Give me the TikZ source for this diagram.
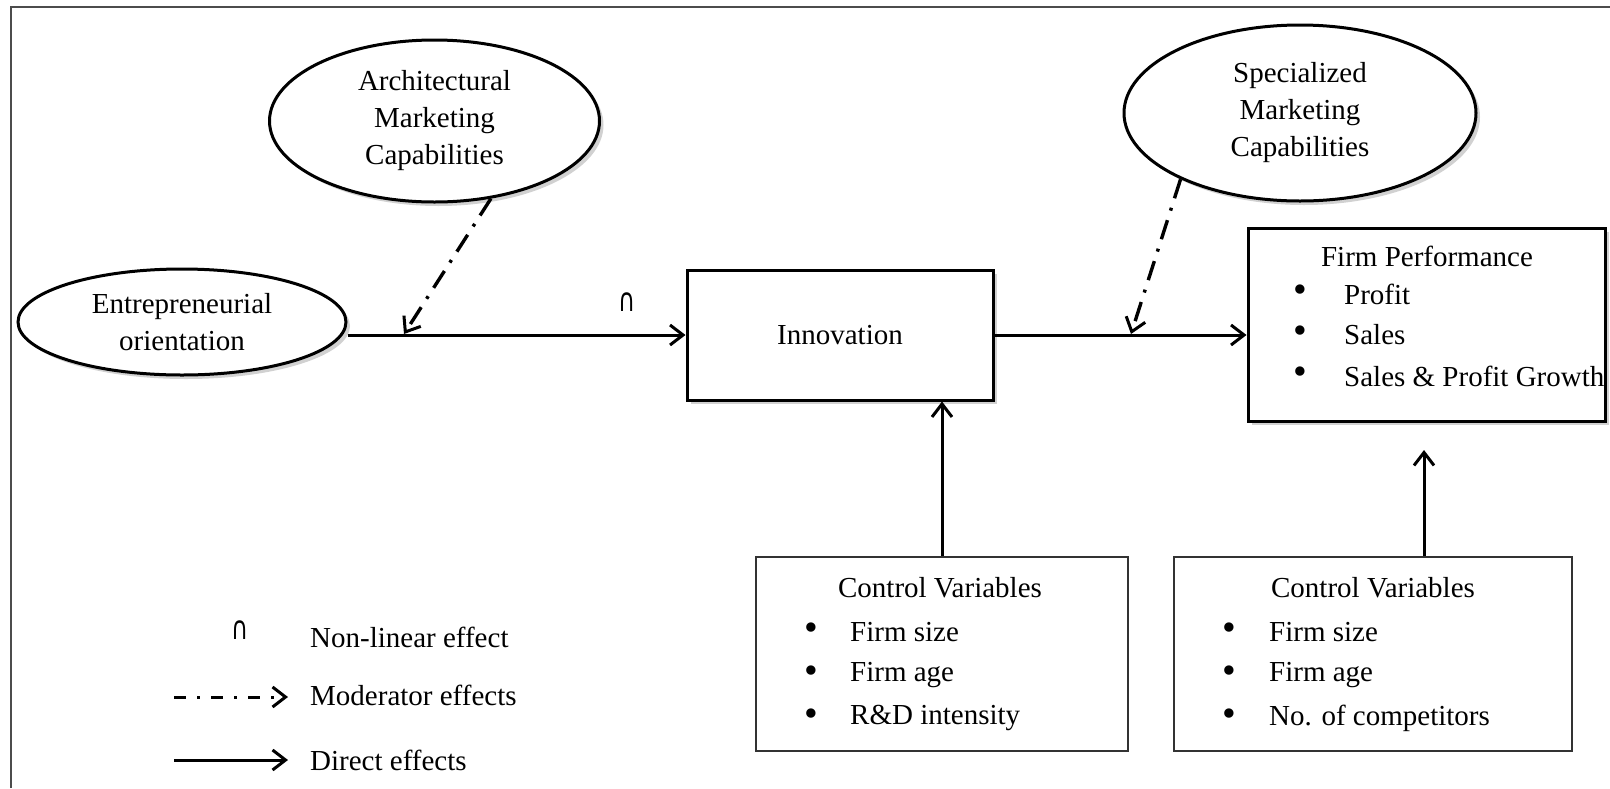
\documentclass[tikz,border=0pt]{standalone}
\usepackage{fontspec}
\setmainfont{Liberation Serif}
\newfontfamily\symfont{DejaVu Sans}
\usetikzlibrary{arrows.meta,shadows,shapes.geometric}
\newcommand{\bigbullet}{\scalebox{1.35}{•}}
\begin{document}
\begin{tikzpicture}[x=1pt,y=-1pt,
  every node/.style={font=\fontsize{29}{37}\selectfont, inner sep=0pt},
  shade/.style={drop shadow={shadow xshift=4pt, shadow yshift=-4pt, opacity=0.18, fill=black}},
  mainbox/.style={draw, line width=3pt, fill=white, shade, rectangle},
  ctrlbox/.style={draw=black!80, line width=1.6pt, fill=white, rectangle},
  construct/.style={draw, line width=3pt, fill=white, shade, ellipse, align=center},
  direct/.style={line width=3pt, -{Straight Barb[length=13pt,width=20pt,line width=3pt]}},
  moderator/.style={line width=3.4pt, dash pattern=on 20pt off 10pt on 3pt off 10pt,
     -{Straight Barb[length=13pt,width=20pt,line width=3pt]}},
  legmod/.style={line width=3pt, dash pattern=on 12pt off 11pt on 3pt off 11pt,
     -{Straight Barb[length=13pt,width=20pt,line width=3pt]}},
  lbl/.style={anchor=west},
  dot/.style={anchor=center},
  capmark/.style={anchor=center},
]
\useasboundingbox (0,0) rectangle (1610,788);
\fill[white] (0,0) rectangle (1610,788);

% frame
\draw[black!70, line width=2pt] (11,788) -- (11,7) -- (1610,7);

% constructs
\node[construct, minimum width=330pt, minimum height=162pt] (arch) at (434.5,121)
  {Architectural\\Marketing\\Capabilities};
\node[construct, minimum width=328pt, minimum height=106pt] (eo) at (182,322)
  {Entrepreneurial\\orientation};
\node[construct, minimum width=352pt, minimum height=176pt] (spec) at (1300,113)
  {Specialized\\Marketing\\Capabilities};

% boxes
\node[mainbox, minimum width=306pt, minimum height=130pt] (innov) at (840,335) {Innovation};
\node[mainbox, minimum width=357pt, minimum height=193pt] (fp) at (1426.5,324.5) {};
\node[ctrlbox, minimum width=372pt, minimum height=194pt] (c1) at (942,654) {};
\node[ctrlbox, minimum width=398pt, minimum height=194pt] (c2) at (1373,654) {};

% firm performance text
\node (fpt) at (1427,256) {Firm Performance};
\node[dot] (fpb1) at (1300,294) {\bigbullet};
\node[dot] (fpb2) at (1300,335) {\bigbullet};
\node[dot] (fpb3) at (1300,376) {\bigbullet};
\node[lbl] (fp1) at (1344,294) {Profit};
\node[lbl] (fp2) at (1344,335) {Sales};
\node[lbl] (fp3) at (1344,376) {Sales \& Profit Growth};

% control 1 text
\node (c1t) at (940,588) {Control Variables};
\node[dot] (c1b1) at (811,632) {\bigbullet};
\node[dot] (c1b2) at (811,675) {\bigbullet};
\node[dot] (c1b3) at (811,718) {\bigbullet};
\node[lbl] (c11) at (850,632) {Firm size};
\node[lbl] (c12) at (850,675) {Firm age};
\node[lbl] (c13) at (850,718) {R\&D intensity};

% control 2 text
\node (c2t) at (1373,588) {Control Variables};
\node[dot] (c2b1) at (1229,632) {\bigbullet};
\node[dot] (c2b2) at (1229,675) {\bigbullet};
\node[dot] (c2b3) at (1229,718) {\bigbullet};
\node[lbl] (c21) at (1269,632) {Firm size};
\node[lbl] (c22) at (1269,675) {Firm age};
\node[lbl] (c23) at (1269,718) {No. of competitors};

% non-linear mark
\node[capmark] (cap1) at (627,302) {\scalebox{1.3}[1.8]{\symfont\fontsize{18}{18}\selectfont ∩}};

% connectors
\draw[direct] (eo.east |- innov.west) -- (innov.west);
\draw[direct] (innov.east) -- (fp.west |- innov.east);
\draw[direct] (c1.north) -- (c1.north |- innov.south);
\coordinate (c2tip) at (1424,450);
\draw[direct] (c2tip |- c2.north) -- (c2tip);
\coordinate (m1) at (404,334);
\coordinate (m2) at (1131,334);
\draw[moderator] (arch.306) -- (m1);
\draw[moderator] (spec.209) -- (m2);

% legend
\node[capmark] (legcap) at (240,630) {\scalebox{1.3}[1.8]{\symfont\fontsize{18}{18}\selectfont ∩}};
\node[lbl] (leg1) at (310,637) {Non-linear effect};
\coordinate (lm1) at (174,697);
\coordinate (lm2) at (288,697);
\draw[legmod] (lm1) -- (lm2);
\node[lbl] (leg2) at (310,695) {Moderator effects};
\coordinate (ld1) at (174,760);
\coordinate (ld2) at (288,760);
\draw[direct] (ld1) -- (ld2);
\node[lbl] (leg3) at (310,760) {Direct effects};
\end{tikzpicture}
\end{document}
